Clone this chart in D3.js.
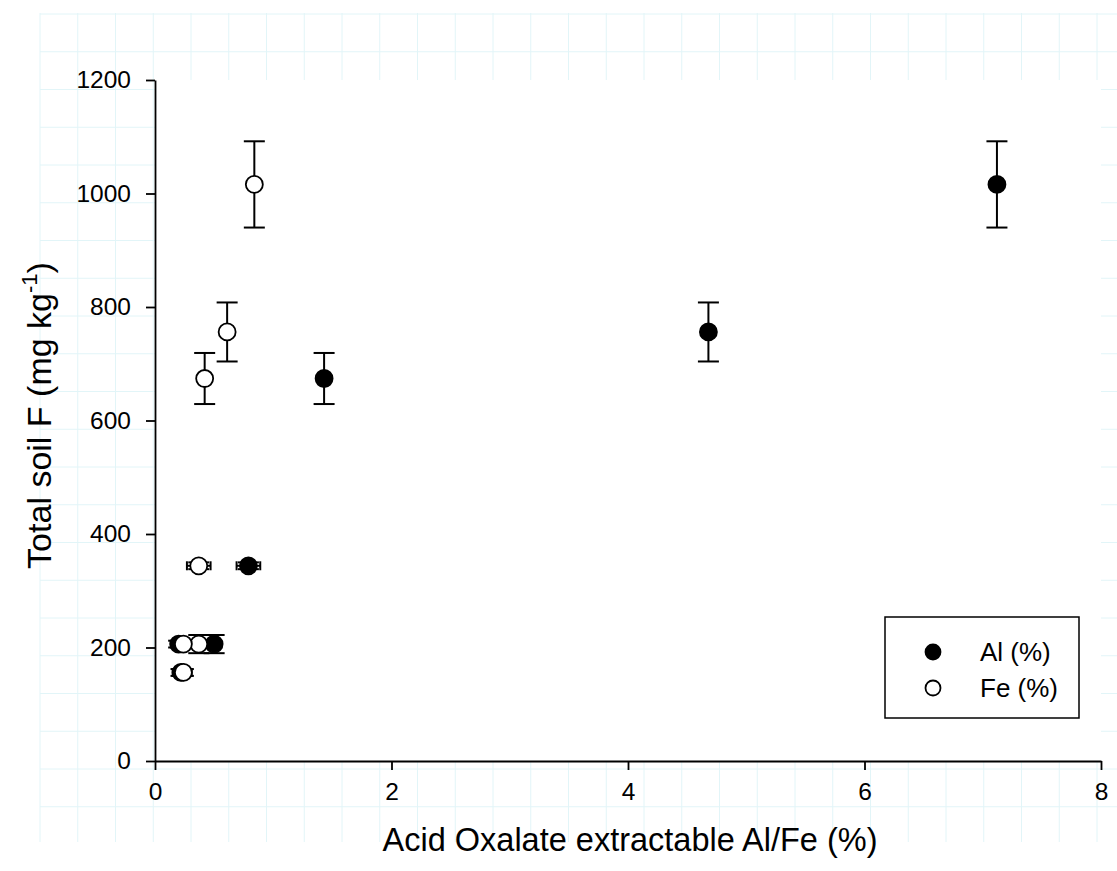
<!DOCTYPE html>
<html>
<head>
<meta charset="utf-8">
<script src="https://cdn.jsdelivr.net/npm/d3@7"></script>
<style>
  html, body { margin: 0; padding: 0; background: #ffffff; }
  svg { display: block; font-family: "Liberation Sans", Arial, sans-serif; }
</style>
</head>
<body>
<svg id="chart" width="1117" height="871"></svg>
<script>
// ---- data ----
const alX    = [7.12, 4.68, 1.43, 0.79, 0.50, 0.20, 0.22];
const alXErr = [0, 0, 0, 0.10, 0.06, 0.06, 0.07];
const feX    = [0.84, 0.61, 0.42, 0.37, 0.37, 0.24, 0.24];
const feXErr = [0, 0, 0, 0.10, 0.06, 0.06, 0.07];
const totalF = [1016, 756, 674, 344, 206, 206, 156];
const fErr   = [76, 52, 45, 6, 16, 6, 6];
const xTicks = [0, 2, 4, 6, 8];
const yTicks = [0, 200, 400, 600, 800, 1000, 1200];
const seriesNames = ["Al (%)", "Fe (%)"];

const svg = d3.select("#chart");
const W = 1117, H = 871;
const m = { left: 155, right: 1101, top: 80, bottom: 761 };

// faint page grid in the background
const gridColor = "#e2f5f8";
const gx = d3.range(40, W + 1, 37.75);
const gy = d3.range(14, 843, 37.75);
const grid = svg.append("g");
grid.selectAll("line.v").data(gx).join("line")
  .attr("x1", d => d).attr("x2", d => d).attr("y1", 13).attr("y2", 842)
  .attr("stroke", gridColor).attr("stroke-width", 1);
grid.selectAll("line.h").data(gy).join("line")
  .attr("y1", d => d).attr("y2", d => d).attr("x1", 40).attr("x2", W)
  .attr("stroke", gridColor).attr("stroke-width", 1);
svg.append("rect").attr("x", m.left).attr("y", m.top)
  .attr("width", m.right - m.left).attr("height", m.bottom - m.top).attr("fill", "#fff");

const x = d3.scaleLinear().domain([0, 8]).range([m.left, m.right]);
const y = d3.scaleLinear().domain([0, 1200]).range([m.bottom, m.top]);

// axes
const xAxis = svg.append("g").attr("transform", `translate(0,${m.bottom})`)
  .call(d3.axisBottom(x).tickValues(xTicks).tickFormat(d3.format("d")).tickSize(9).tickSizeOuter(0).tickPadding(8));
const yAxis = svg.append("g").attr("transform", `translate(${m.left},0)`)
  .call(d3.axisLeft(y).tickValues(yTicks).tickFormat(d3.format("d")).tickSize(9).tickSizeOuter(0).tickPadding(15));
[xAxis, yAxis].forEach(a => {
  a.select(".domain").attr("stroke", "#000").attr("stroke-width", 1.8);
  a.selectAll(".tick line").attr("stroke", "#000").attr("stroke-width", 1.8);
  a.selectAll(".tick text").attr("fill", "#000").style("font-size", "24.5px")
    .style("font-family", "'Liberation Sans', Arial, sans-serif");
});
xAxis.selectAll(".tick text").attr("dy", "0.9em");

// axis titles
svg.append("text").attr("x", (m.left + m.right) / 2 + 2).attr("y", 851)
  .attr("text-anchor", "middle").style("font-size", "32.5px").attr("fill", "#000")
  .text("Acid Oxalate extractable Al/Fe (%)");
const yt = svg.append("text")
  .attr("transform", `translate(51,${(258 + 573) / 2}) rotate(-90)`)
  .attr("text-anchor", "middle").style("font-size", "34px").attr("fill", "#000");
yt.append("tspan").text("Total soil F (mg kg");
yt.append("tspan").attr("dy", -14).style("font-size", "22px").text("-1");
yt.append("tspan").attr("dy", 14).text(")");

// series drawing
const capW = 10.5, capH = 4.5, r = 8.5;
function drawSeries(xs, xerrs, fill) {
  const data = xs.map((v, i) => ({ x: v, xe: xerrs[i], y: totalF[i], ye: fErr[i] }));
  const g = svg.append("g");
  const eb = g.selectAll("g.eb").data(data).join("g");
  // vertical error bars
  eb.filter(d => d.ye > 0).each(function (d) {
    const s = d3.select(this);
    s.append("line").attr("x1", x(d.x)).attr("x2", x(d.x)).attr("y1", y(d.y - d.ye)).attr("y2", y(d.y + d.ye));
    s.append("line").attr("x1", x(d.x) - capW).attr("x2", x(d.x) + capW).attr("y1", y(d.y + d.ye)).attr("y2", y(d.y + d.ye));
    s.append("line").attr("x1", x(d.x) - capW).attr("x2", x(d.x) + capW).attr("y1", y(d.y - d.ye)).attr("y2", y(d.y - d.ye));
  });
  // horizontal error bars
  eb.filter(d => d.xe > 0).each(function (d) {
    const s = d3.select(this);
    s.append("line").attr("x1", x(d.x - d.xe)).attr("x2", x(d.x + d.xe)).attr("y1", y(d.y)).attr("y2", y(d.y));
    s.append("line").attr("x1", x(d.x - d.xe)).attr("x2", x(d.x - d.xe)).attr("y1", y(d.y) - capH).attr("y2", y(d.y) + capH);
    s.append("line").attr("x1", x(d.x + d.xe)).attr("x2", x(d.x + d.xe)).attr("y1", y(d.y) - capH).attr("y2", y(d.y) + capH);
  });
  eb.selectAll("line").attr("stroke", "#000").attr("stroke-width", 2);
  g.selectAll("circle").data(data).join("circle")
    .attr("cx", d => x(d.x)).attr("cy", d => y(d.y)).attr("r", r)
    .attr("fill", fill).attr("stroke", "#000").attr("stroke-width", 1.8);
}
drawSeries(alX, alXErr, "#000");
drawSeries(feX, feXErr, "#fff");

// legend
const lg = svg.append("g");
lg.append("rect").attr("x", 885).attr("y", 617).attr("width", 194).attr("height", 101)
  .attr("fill", "#fff").attr("stroke", "#000").attr("stroke-width", 1.5);
const fills = ["#000", "#fff"];
seriesNames.forEach((n, i) => {
  const cy = 652 + i * 36;
  lg.append("circle").attr("cx", 933).attr("cy", cy).attr("r", 7.5)
    .attr("fill", fills[i]).attr("stroke", "#000").attr("stroke-width", 1.8);
  lg.append("text").attr("x", 980).attr("y", cy + 9).style("font-size", "26px").attr("fill", "#000").text(n);
});
</script>
</body>
</html>
